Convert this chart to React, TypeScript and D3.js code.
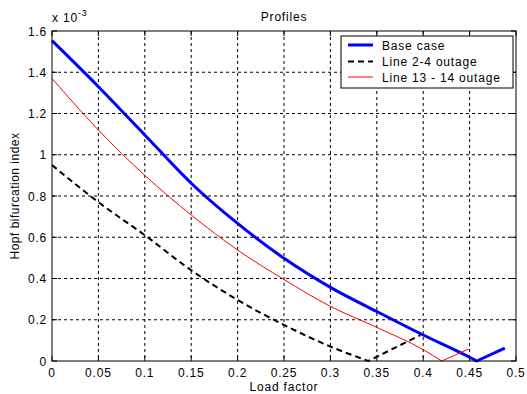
import React from "react";
import * as d3 from "d3";

const baseX = [0, 0.05, 0.1, 0.15, 0.2, 0.25, 0.3, 0.35, 0.4, 0.45, 0.4577, 0.488];
const baseY = [1.553, 1.33, 1.096, 0.862, 0.667, 0.498, 0.357, 0.24, 0.126, 0.018, 0, 0.062];
const line24X = [0, 0.05, 0.1, 0.15, 0.2, 0.25, 0.3, 0.341, 0.397];
const line24Y = [0.95, 0.77, 0.61, 0.44, 0.296, 0.175, 0.07, 0, 0.126];
const line1314X = [0, 0.05, 0.1, 0.15, 0.2, 0.25, 0.3, 0.35, 0.4, 0.42, 0.449];
const line1314Y = [1.37, 1.12, 0.9, 0.708, 0.538, 0.395, 0.265, 0.163, 0.055, 0, 0.058];
const xTicks = [0, 0.05, 0.1, 0.15, 0.2, 0.25, 0.3, 0.35, 0.4, 0.45, 0.5];
const xTickLabels = ["0", "0.05", "0.1", "0.15", "0.2", "0.25", "0.3", "0.35", "0.4", "0.45", "0.5"];
const yTicks = [0, 0.2, 0.4, 0.6, 0.8, 1, 1.2, 1.4, 1.6];
const yTickLabels = ["0", "0.2", "0.4", "0.6", "0.8", "1", "1.2", "1.4", "1.6"];
const seriesNames = ["Base case", "Line 2-4 outage", "Line 13 - 14 outage"];

const W = 527, H = 394;
const L = 52, R = 516, T = 31, B = 361;
const font = "'Liberation Sans', Arial, Helvetica, sans-serif";
const LS = 0.8;

export default function App() {
  const x = d3.scaleLinear().domain([0, 0.5]).range([L, R]);
  const y = d3.scaleLinear().domain([0, 1.6]).range([B, T]);
  // smooth descending branch up to the minimum, straight rising branch after it
  const mk = (xs: number[], ys: number[]) => {
    const iMin = ys.indexOf(d3.min(ys) as number);
    const pts: [number, number][] = xs.map((v, i) => [x(v), y(ys[i])]);
    const down = d3.line().curve(d3.curveMonotoneX)(pts.slice(0, iMin + 1)) as string;
    const up = d3.line()(pts.slice(iMin)) as string;
    return down + "L" + up.slice(1);
  };

  const series = [
    { name: seriesNames[0], d: mk(baseX, baseY), color: "#0000ff", w: 3, dash: undefined },
    { name: seriesNames[1], d: mk(line24X, line24Y), color: "#000000", w: 2, dash: "6,4" },
    { name: seriesNames[2], d: mk(line1314X, line1314Y), color: "#ff0000", w: 1, dash: undefined },
  ];

  const legX = 341, legY = 36, legW = 172, legH = 52;
  const rowY = [45, 61.5, 77];

  return (
    <svg width={W} height={H} style={{ position: "absolute", left: 0, top: 0, background: "#fff" }} fontFamily={font}>
      <rect x={0} y={0} width={W} height={H} fill="#fff" />
      {xTicks.slice(1, -1).map((t) => (
        <line key={"gx" + t} x1={x(t)} x2={x(t)} y1={T} y2={B} stroke="#000" strokeWidth={1} strokeDasharray="3,3" />
      ))}
      {yTicks.slice(1, -1).map((t) => (
        <line key={"gy" + t} x1={L} x2={R} y1={y(t)} y2={y(t)} stroke="#000" strokeWidth={1} strokeDasharray="3,3" />
      ))}
      {xTicks.map((t) => (
        <g key={"tx" + t}>
          <line x1={x(t)} x2={x(t)} y1={B} y2={B - 5} stroke="#000" />
          <line x1={x(t)} x2={x(t)} y1={T} y2={T + 5} stroke="#000" />
        </g>
      ))}
      {yTicks.map((t) => (
        <g key={"ty" + t}>
          <line x1={L} x2={L + 5} y1={y(t)} y2={y(t)} stroke="#000" />
          <line x1={R} x2={R - 5} y1={y(t)} y2={y(t)} stroke="#000" />
        </g>
      ))}
      {series.map((s) => (
        <path key={s.name} d={s.d} fill="none" stroke={s.color} strokeWidth={s.w} strokeDasharray={s.dash} strokeLinejoin="round" />
      ))}
      <rect x={L} y={T} width={R - L} height={B - T} fill="none" stroke="#000" strokeWidth={1} />
      {xTicks.map((t, i) => (
        <text key={"lx" + t} x={x(t)} y={377} fontSize={12} letterSpacing={LS} textAnchor="middle" fill="#000">{xTickLabels[i]}</text>
      ))}
      {yTicks.map((t, i) => (
        <text key={"ly" + t} x={47} y={y(t) + 4.5} fontSize={12} letterSpacing={LS} textAnchor="end" fill="#000">{yTickLabels[i]}</text>
      ))}
      <text x={52} y={22} fontSize={12} letterSpacing={LS} fill="#000">x 10</text>
      <text x={78} y={16} fontSize={9} letterSpacing={LS} fill="#000">-3</text>
      <text x={(L + R) / 2} y={21} fontSize={12} letterSpacing={LS} textAnchor="middle" fill="#000">Profiles</text>
      <text x={(L + R) / 2} y={390.5} fontSize={12} letterSpacing={LS} textAnchor="middle" fill="#000">Load factor</text>
      <text transform={`translate(19,${(T + B) / 2}) rotate(-90)`} fontSize={12} letterSpacing={0.5} textAnchor="middle" fill="#000">Hopf bifurcation index</text>
      <rect x={legX} y={legY} width={legW} height={legH} fill="#fff" stroke="#000" strokeWidth={1} />
      {series.map((s, i) => (
        <g key={"leg" + i}>
          <line x1={348} x2={373} y1={rowY[i]} y2={rowY[i]} stroke={s.color} strokeWidth={s.w} strokeDasharray={s.dash} />
          <text x={382} y={rowY[i] + 4.5} fontSize={12} letterSpacing={LS} fill="#000">{s.name}</text>
        </g>
      ))}
    </svg>
  );
}
